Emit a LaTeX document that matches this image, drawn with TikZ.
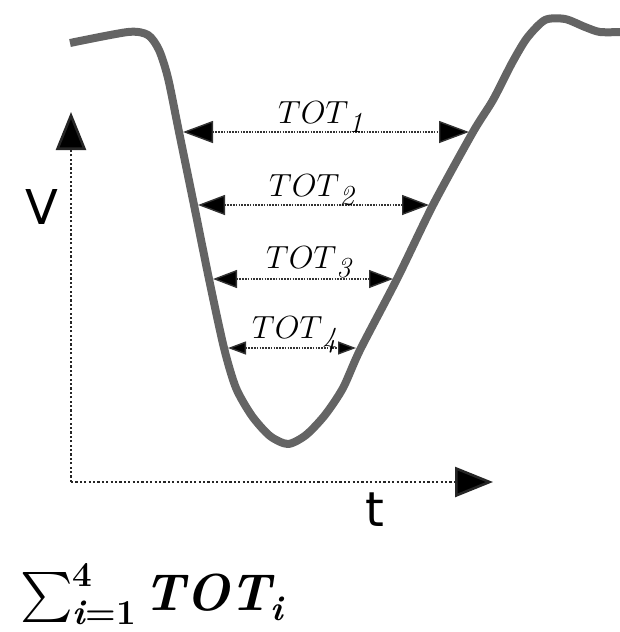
\RequirePackage{fix-cm}
\documentclass[tikz,border=0pt]{standalone}
\usepackage{fontspec}
\newfontfamily\dejavu{DejaVu Sans}
\DeclareFontShape{OMX}{cmex}{m}{n}{<->cmex10}{}
\usetikzlibrary{arrows.meta}
\definecolor{curvegray}{HTML}{646464}
\newcommand\bsub[1]{\hbox{\fontsize{35}{40}\selectfont\bfseries\itshape #1}}
\newcommand\totsub[1]{\raisebox{-9pt}{\fontsize{29}{32}\selectfont\itshape #1}}
\tikzset{
  signal/.style={draw=curvegray, line width=8pt, line join=round, line cap=butt},
  axisline/.style={draw=black!85, line width=2.6pt, dash pattern=on 2.2pt off 2.2pt},
  totline/.style={draw=black!80, line width=1.4pt, dash pattern=on 1.5pt off 1.3pt},
  tipsz/.style 2 args={arrows={Triangle[length=#1,width=#2,fill=black]-Triangle[length=#1,width=#2,fill=black]}},
  axtip/.style={arrows={-Triangle[length=38pt,width=30pt,fill=black]}},
  totlabel/.style={anchor=base west, inner sep=0pt, font=\fontsize{32}{38}\selectfont},
  axlabel/.style={inner sep=0pt, font=\dejavu\fontsize{48}{56}\selectfont},
  sumlabel/.style={anchor=base west, inner sep=0pt, font=\fontsize{50}{60}\selectfont}
}
\begin{document}
\begin{tikzpicture}[x=1pt,y=-1pt]
\useasboundingbox (0,0) rectangle (619,632);
% signal curve
\draw[signal] plot[smooth, tension=0.45] coordinates {
 (70,43) (128,32) (148,35) (159,50) (168,78) (179,132) (194,205) (209,279) (224,348)
 (236,388) (252,416) (270,436) (288,444) (306,435) (325,415) (343,388) (360,350)
 (397,279) (433,205) (473,132) (493,100) (512,63) (527,38) (545,20) (565,19) (585,27) (600,32) (622,32)};
% axes
\coordinate (O) at (71,482);
\coordinate (Ytip) at (71,112);
\coordinate (Xtip) at (493,482);
\draw[axisline, axtip] (O) -- (Ytip);
\draw[axisline, axtip] (O) -- (Xtip);
\node[axlabel] (V) at (42,207) {V};
\node[axlabel] (t) at (375,510) {t};
% TOT arrows
\coordinate (a1l) at (183,132); \coordinate (a1r) at (469,132);
\coordinate (a2l) at (198,205); \coordinate (a2r) at (429,205);
\coordinate (a3l) at (213,279); \coordinate (a3r) at (393,279);
\coordinate (a4l) at (228,348); \coordinate (a4r) at (356,348);
\draw[totline, tipsz={30pt}{22pt}] (a1l) -- (a1r);
\draw[totline, tipsz={27pt}{20pt}] (a2l) -- (a2r);
\draw[totline, tipsz={24pt}{18pt}] (a3l) -- (a3r);
\draw[totline, tipsz={18pt}{13pt}] (a4l) -- (a4r);
\node[totlabel] (L1) at (278,123) {$TOT$\totsub{1}};
\node[totlabel] (L2) at (269,196) {$TOT$\totsub{2}};
\node[totlabel] (L3) at (266,268) {$TOT$\totsub{3}};
\node[totlabel] (L4) at (252,338) {$TOT$\totsub{4}};
% sum
\node[sumlabel] (sig) at (20,610) {$\sum_{\bsub{i\upshape =1}}^{\bsub{\upshape 4}}$};
\node[sumlabel, font=\fontsize{52}{60}\selectfont] (tot) at ([xshift=7pt]sig.base east) {\bfseries\itshape TOT\raisebox{-10pt}{\fontsize{35}{40}\selectfont i}};
\end{tikzpicture}
\end{document}
